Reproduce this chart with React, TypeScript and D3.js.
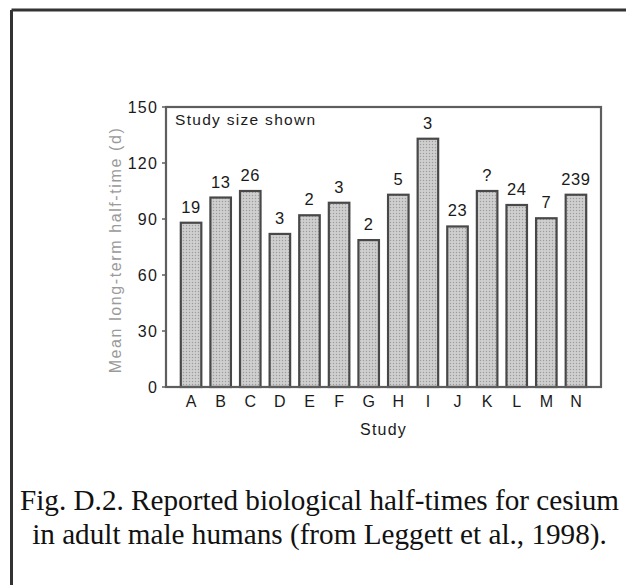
import React from "react";
import * as d3 from "d3";

const studies = ["A", "B", "C", "D", "E", "F", "G", "H", "I", "J", "K", "L", "M", "N"];
const halfTimes = [88, 101.5, 105, 82, 92, 98.7, 78.7, 103, 133, 86, 105, 97.5, 90.4, 103];
const studySizes = ["19", "13", "26", "3", "2", "3", "2", "5", "3", "23", "?", "24", "7", "239"];
const yTicks = [0, 30, 60, 90, 120, 150];
const captionLines = [
  "Fig. D.2. Reported biological half-times for cesium",
  "in adult male humans (from Leggett et al., 1998).",
];

const W = 626;
const H = 585;
const plot = { left: 166, right: 601, top: 107, bottom: 387 };
const sans = "'Liberation Sans', Arial, Helvetica, sans-serif";
const serif = "'Liberation Serif', 'Times New Roman', serif";

export default function App() {
  const x = d3
    .scaleBand<string>()
    .domain(studies)
    .range([plot.left, plot.right])
    .paddingInner(0.307)
    .paddingOuter(0.5);
  const y = d3.scaleLinear().domain([0, 150]).range([plot.bottom, plot.top]);
  const bw = x.bandwidth();

  return (
    <div style={{ position: "absolute", left: 0, top: 0, width: W, height: H }}>
      <svg width={W} height={H} style={{ display: "block", background: "#fff" }}>
        <defs>
          <pattern id="stipple" width="3" height="3" patternUnits="userSpaceOnUse">
            <rect width="3" height="3" fill="#c9c9c9" />
            <rect x="0" y="0" width="1" height="1" fill="#9c9c9c" />
            <rect x="1.5" y="1.5" width="1" height="1" fill="#e2e2e2" />
          </pattern>
        </defs>

        {/* outer frame */}
        <line x1={11.5} y1={10} x2={W} y2={10} stroke="#333" strokeWidth={3} />
        <line x1={11.5} y1={10} x2={11.5} y2={H} stroke="#333" strokeWidth={3} />

        {/* bars */}
        {halfTimes.map((v, i) => (
          <rect
            key={studies[i]}
            x={x(studies[i])!}
            y={y(v)}
            width={bw}
            height={y(0) - y(v)}
            fill="url(#stipple)"
            stroke="#484848"
            strokeWidth={2.2}
          />
        ))}

        {/* study size labels */}
        {halfTimes.map((v, i) => (
          <text
            key={"l" + i}
            x={x(studies[i])! + bw / 2}
            y={y(v) - 10}
            textAnchor="middle"
            fontFamily={sans}
            fontSize={16.5}
            letterSpacing={0.6}
            fill="#1a1a1a"
          >
            {studySizes[i]}
          </text>
        ))}

        {/* plot frame */}
        <rect
          x={plot.left}
          y={plot.top}
          width={plot.right - plot.left}
          height={plot.bottom - plot.top}
          fill="none"
          stroke="#5e5e5e"
          strokeWidth={2.2}
        />

        {/* y ticks */}
        {yTicks.map((t) => (
          <g key={t}>
            <line x1={plot.left - 4} x2={plot.left} y1={y(t)} y2={y(t)} stroke="#5e5e5e" strokeWidth={1.5} />
            <text
              x={plot.left - 8}
              y={y(t)}
              dy="0.36em"
              textAnchor="end"
              fontFamily={sans}
              fontSize={16}
              letterSpacing={1.2}
              fill="#1a1a1a"
            >
              {t}
            </text>
          </g>
        ))}

        {/* x labels */}
        {studies.map((s) => (
          <text
            key={s}
            x={x(s)! + bw / 2}
            y={407}
            textAnchor="middle"
            fontFamily={sans}
            fontSize={16}
            fill="#1a1a1a"
          >
            {s}
          </text>
        ))}

        <text
          x={(plot.left + plot.right) / 2}
          y={435}
          textAnchor="middle"
          fontFamily={sans}
          fontSize={16}
          letterSpacing={1.2}
          fill="#1a1a1a"
        >
          Study
        </text>

        <text
          transform={`translate(121, 250) rotate(-90)`}
          textAnchor="middle"
          fontFamily={sans}
          fontSize={16}
          letterSpacing={1.6}
          fill="#9a9a9a"
        >
          Mean long-term half-time (d)
        </text>

        <text x={plot.left + 9} y={plot.top + 18} fontFamily={sans} fontSize={15.5} letterSpacing={1.3} fill="#1a1a1a">
          Study size shown
        </text>

        {/* caption */}
        {captionLines.map((line, i) => (
          <text
            key={i}
            x={319.5}
            y={510 + i * 34}
            textAnchor="middle"
            fontFamily={serif}
            fontSize={29.2}
            fill="#111"
          >
            {line}
          </text>
        ))}
      </svg>
    </div>
  );
}
